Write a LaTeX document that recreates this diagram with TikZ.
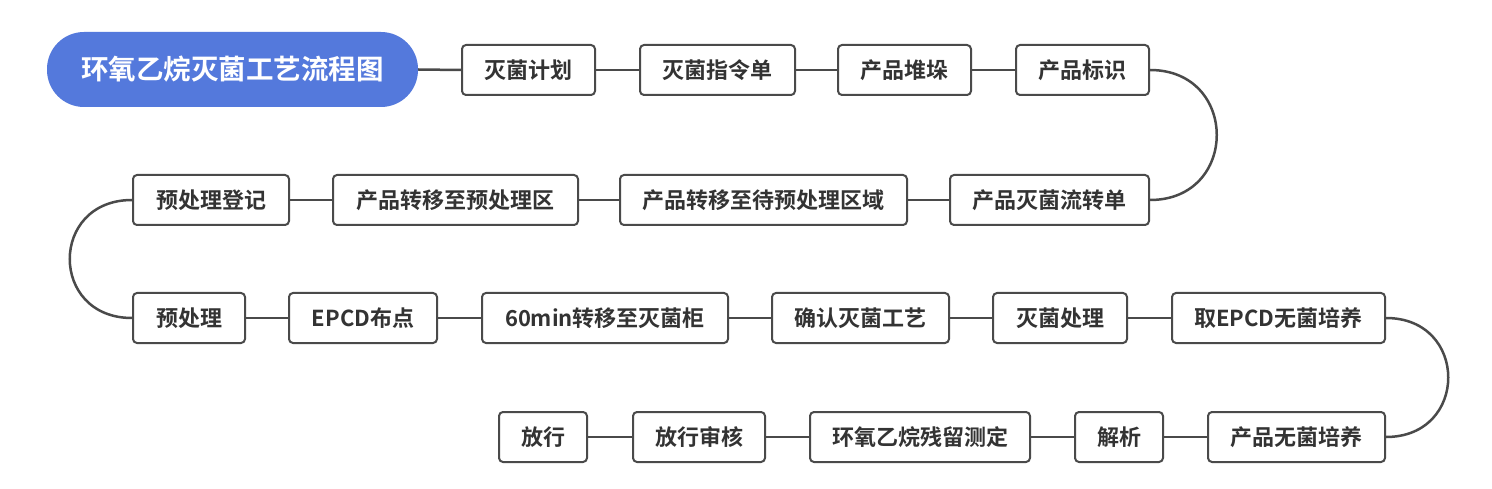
\documentclass[tikz,border=0pt]{standalone}
\usepackage{fontspec}
\newfontfamily\cjk{Noto Sans CJK SC Bold}
\definecolor{bordercol}{HTML}{4A4A4A}
\definecolor{linecol}{HTML}{4A4A4A}
\definecolor{textcol}{HTML}{333333}
\definecolor{titleblue}{HTML}{5479DC}
\begin{document}
\begin{tikzpicture}[x=1pt,y=-1pt,
  stepbox/.style={draw=bordercol, line width=2pt, rounded corners=4pt, fill=white,
    minimum height=50pt, inner sep=0pt, font=\cjk\fontsize{22}{26}\selectfont, text=textcol},
  titlebox/.style={fill=titleblue, rounded corners=37pt, minimum width=371pt, minimum height=75pt,
    inner sep=0pt, font=\cjk\fontsize{27.5}{32}\selectfont, text=white},
  conn/.style={draw=linecol, line width=2.5pt}]
\useasboundingbox[fill=white] (0,0) rectangle (1492,489);
% title
\node[titlebox] (t) at (232.5,69.5) {环氧乙烷灭菌工艺流程图};
% row 1
\node[stepbox, minimum width=133pt] (a1) at (528.5,70) {灭菌计划};
\node[stepbox, minimum width=155pt] (a2) at (717.5,70) {灭菌指令单};
\node[stepbox, minimum width=133pt] (a3) at (904.5,70) {产品堆垛};
\node[stepbox, minimum width=133pt] (a4) at (1082.5,70) {产品标识};
% row 2
\node[stepbox, minimum width=199pt] (b1) at (1049.5,200) {产品灭菌流转单};
\node[stepbox, minimum width=287pt] (b2) at (763.5,200) {产品转移至待预处理区域};
\node[stepbox, minimum width=245pt] (b3) at (455.5,200) {产品转移至预处理区};
\node[stepbox, minimum width=156pt] (b4) at (211,200) {预处理登记};
% row 3
\node[stepbox, minimum width=112pt] (c1) at (189,318) {预处理};
\node[stepbox, minimum width=148pt] (c2) at (363,318) {EPCD布点};
\node[stepbox, minimum width=246pt] (c3) at (605,318) {60min转移至灭菌柜};
\node[stepbox, minimum width=177pt] (c4) at (860.5,318) {确认灭菌工艺};
\node[stepbox, minimum width=134pt] (c5) at (1060,318) {灭菌处理};
\node[stepbox, minimum width=213pt] (c6) at (1278.5,318) {取EPCD无菌培养};
% row 4
\node[stepbox, minimum width=177pt] (d1) at (1296.5,437) {产品无菌培养};
\node[stepbox, minimum width=88pt] (d2) at (1119,437) {解析};
\node[stepbox, minimum width=220pt] (d3) at (920,437) {环氧乙烷残留测定};
\node[stepbox, minimum width=132pt] (d4) at (699,437) {放行审核};
\node[stepbox, minimum width=88pt] (d5) at (543,437) {放行};
% connectors
\draw[conn] (t.east) -- (a1.west);
\draw[conn] (a1.east) -- (a2.west);
\draw[conn] (a2.east) -- (a3.west);
\draw[conn] (a3.east) -- (a4.west);
\draw[conn] (a4.east) .. controls +(89,0) and +(89,0) .. (b1.east);
\draw[conn] (b1.west) -- (b2.east);
\draw[conn] (b2.west) -- (b3.east);
\draw[conn] (b3.west) -- (b4.east);
\draw[conn] (b4.west) .. controls +(-83,0) and +(-83,0) .. (c1.west);
\draw[conn] (c1.east) -- (c2.west);
\draw[conn] (c2.east) -- (c3.west);
\draw[conn] (c3.east) -- (c4.west);
\draw[conn] (c4.east) -- (c5.west);
\draw[conn] (c5.east) -- (c6.west);
\draw[conn] (c6.east) .. controls +(83,0) and +(83,0) .. (d1.east);
\draw[conn] (d1.west) -- (d2.east);
\draw[conn] (d2.west) -- (d3.east);
\draw[conn] (d3.west) -- (d4.east);
\draw[conn] (d4.west) -- (d5.east);
\end{tikzpicture}
\end{document}
